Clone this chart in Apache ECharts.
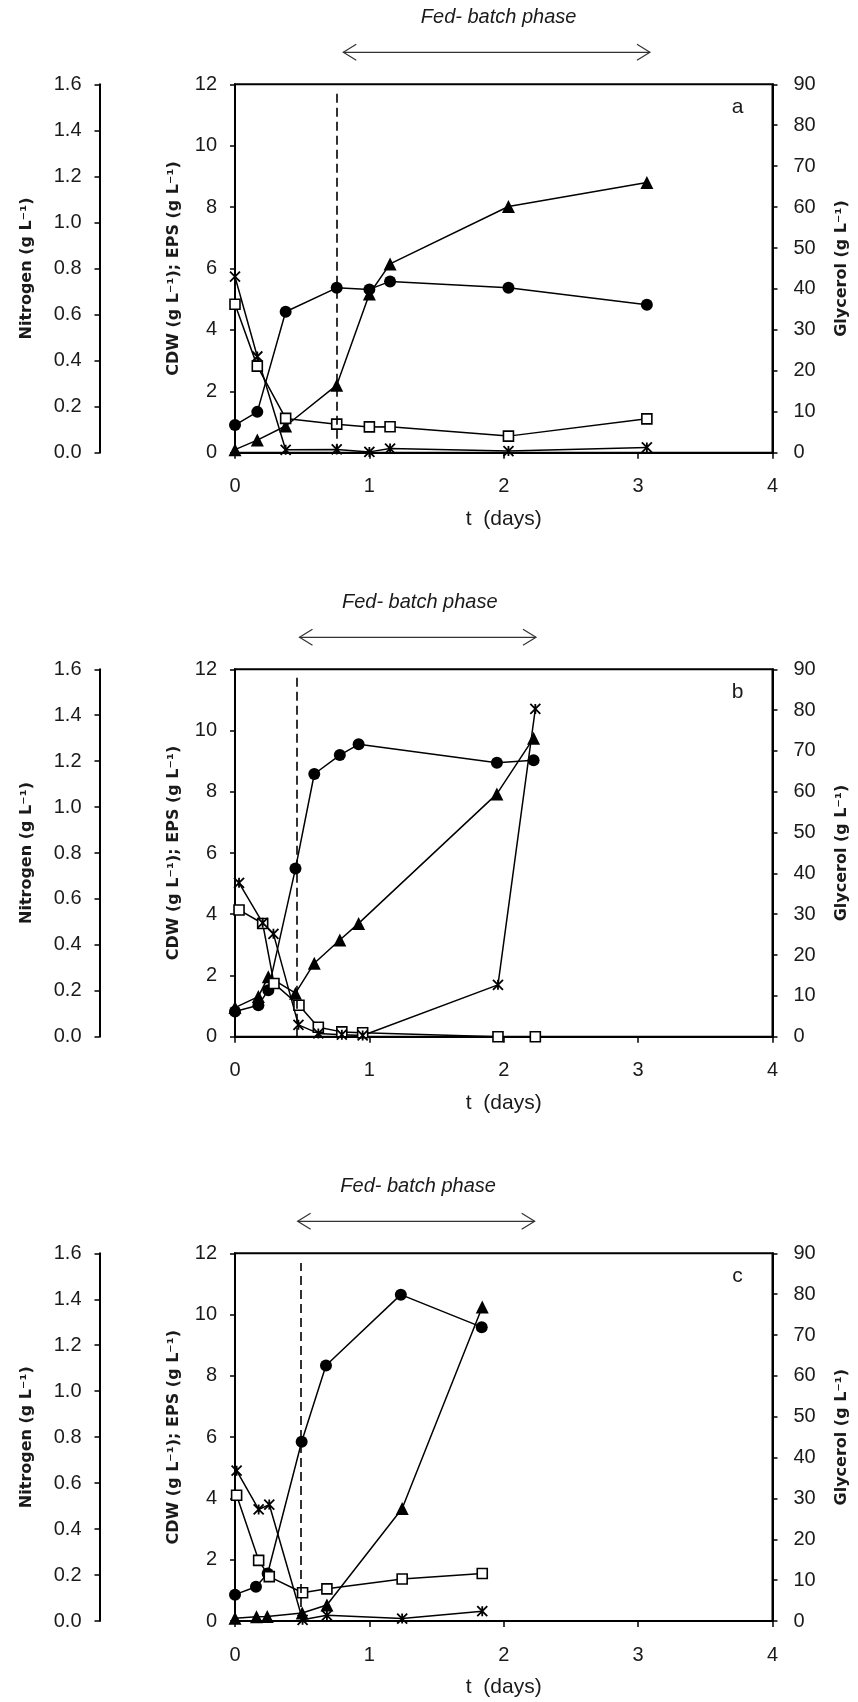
<!DOCTYPE html>
<html>
<head>
<meta charset="utf-8">
<script src="https://cdn.jsdelivr.net/npm/echarts@6/dist/echarts.min.js"></script>
<style>
html,body{margin:0;padding:0;background:#fff;}
#chart{width:858px;height:1702px;}
</style>
</head>
<body>
<div id="chart"></div>
<script>
// ---------------- DATA ----------------
// Panel a
const A_T = [0, 0.166, 0.377, 0.757, 1.0, 1.154, 2.035, 3.065];
const A_CDW = [0.90, 1.33, 4.59, 5.37, 5.32, 5.58, 5.37, 4.82];
const A_EPS = [0.10, 0.41, 0.87, 2.20, 5.17, 6.15, 8.02, 8.80];
const A_NIT = [0.645, 0.376, 0.149, 0.124, 0.112, 0.113, 0.072, 0.147];
const A_GLY = [43.0, 23.5, 0.7, 0.8, 0.2, 1.0, 0.4, 1.3];
const A_FEED = 0.757;

// Panel b
const B_T1 = [0, 0.174, 0.248, 0.45, 0.59, 0.78, 0.92, 1.949, 2.222];
const B_CDW = [0.82, 1.03, 1.52, 5.49, 8.58, 9.20, 9.55, 8.95, 9.03];
const B_EPS = [0.95, 1.31, 1.96, 1.42, 2.40, 3.16, 3.70, 7.93, 9.75];
const B_T2 = [0.03, 0.206, 0.29, 0.476, 0.62, 0.795, 0.95, 1.957, 2.235];
const B_NIT = [0.552, 0.493, 0.232, 0.137, 0.041, 0.021, 0.017, 0.0, 0.0];
const B_T3 = [0.03, 0.206, 0.286, 0.472, 0.62, 0.795, 0.95, 1.957, 2.235];
const B_GLY = [37.7, 27.9, 25.2, 2.9, 0.8, 0.5, 0.3, 12.7, 80.3];
const B_FEED = 0.459;

// Panel c
const C_T1 = [0, 0.156, 0.243, 0.496, 0.677, 1.234, 1.836];
const C_CDW = [0.86, 1.12, 1.55, 5.85, 8.34, 10.65, 9.59];
const C_T2 = [0, 0.16, 0.24, 0.50, 0.684, 1.244, 1.84];
const C_EPS = [0.09, 0.14, 0.15, 0.26, 0.52, 3.67, 10.25];
const C_T3 = [0.012, 0.176, 0.255, 0.503, 0.684, 1.244, 1.84];
const C_NIT = [0.547, 0.264, 0.193, 0.123, 0.140, 0.183, 0.207];
const C_GLY = [36.8, 27.3, 28.5, 0.3, 1.4, 0.6, 2.4];
const C_FEED = 0.486;

// Fed-batch arrows [start, end] in days
const FEED_ARROWS = [[0.806, 3.088], [0.48, 2.24], [0.466, 2.23]];
const PANEL_LETTERS = ['a', 'b', 'c'];

// Axis scales
const X_TICKS = {min: 0, max: 4, interval: 1};
const LEFT_TICKS = {min: 0, max: 12, interval: 2};
const NIT_TICKS = {min: 0, max: 1.6, interval: 0.2};
const GLY_TICKS = {min: 0, max: 90, interval: 10};

// ---------------- LAYOUT ----------------
const GRIDS = [
  {left: 235, right: 85.5, top: 84.3, height: 368.4},
  {left: 235, right: 85.5, top: 669.3, height: 367.4},
  {left: 235, right: 85.5, top: 1253.3, height: 367.7}
];
const NUM_FONT = "'Liberation Sans Narrow', 'Liberation Sans', sans-serif";
const TITLE_FONT = "'DejaVu Sans', Verdana, sans-serif";
const TXT = '#1a1a1a';

const chart = echarts.init(document.getElementById('chart'), null, {renderer: 'canvas'});

const xAxes = [], yAxes = [], series = [];
const STAR = 'path://M0,0L10,10M10,0L0,10M5,0L5,10';

function line(name, t, v, xi, yi, kind) {
  const s = {
    type: 'line', name: name, xAxisIndex: xi, yAxisIndex: yi,
    data: t.map((tt, i) => [tt, v[i]]),
    lineStyle: {color: '#000', width: 1.5},
    clip: false, animation: false, z: 3
  };
  if (kind === 'circle') {
    s.symbol = 'circle'; s.symbolSize = 12;
    s.itemStyle = {color: '#000', borderColor: '#000', borderWidth: 0};
  } else if (kind === 'triangle') {
    s.symbol = 'triangle'; s.symbolSize = 13;
    s.itemStyle = {color: '#000', borderColor: '#000', borderWidth: 0};
  } else if (kind === 'square') {
    s.symbol = 'rect'; s.symbolSize = 10;
    s.itemStyle = {color: '#fff', borderColor: '#000', borderWidth: 1.6};
    s.z = 4;
  } else {
    s.symbol = STAR; s.symbolSize = 10;
    s.itemStyle = {color: '#000', borderColor: '#000', borderWidth: 1.8};
    s.z = 4;
  }
  return s;
}

const panels = [
  {cdw: [A_T, A_CDW], eps: [A_T, A_EPS], nit: [A_T, A_NIT], gly: [A_T, A_GLY], feed: A_FEED, feedTop: 11.75},
  {cdw: [B_T1, B_CDW], eps: [B_T1, B_EPS], nit: [B_T2, B_NIT], gly: [B_T3, B_GLY], feed: B_FEED, feedTop: 11.79},
  {cdw: [C_T1, C_CDW], eps: [C_T2, C_EPS], nit: [C_T3, C_NIT], gly: [C_T3, C_GLY], feed: C_FEED, feedTop: 11.68}
];

const numLabel = {color: TXT, fontFamily: NUM_FONT, fontSize: 20};
const nameStyle = {color: TXT, fontFamily: TITLE_FONT, fontSize: 16, fontWeight: 'bold'};

panels.forEach((p, i) => {
  xAxes.push({
    type: 'value', gridIndex: i, ...X_TICKS,
    name: 't  (days)', nameLocation: 'middle', nameGap: 56,
    nameTextStyle: {color: TXT, fontFamily: NUM_FONT, fontSize: 21},
    axisLine: {show: true, onZero: false, lineStyle: {color: '#000', width: 2}},
    axisTick: {show: true, inside: false, length: 6, lineStyle: {color: '#000', width: 1.5}},
    axisLabel: {...numLabel, margin: 24},
    splitLine: {show: false}
  });
  yAxes.push({
    type: 'value', gridIndex: i, position: 'left', ...LEFT_TICKS,
    name: 'CDW (g L⁻¹); EPS (g L⁻¹)', nameLocation: 'middle', nameRotate: 90, nameGap: 53,
    nameTextStyle: nameStyle,
    axisLine: {show: true, lineStyle: {color: '#000', width: 2}},
    axisTick: {show: true, inside: false, length: 5, lineStyle: {color: '#000', width: 1.5}},
    axisLabel: {...numLabel, margin: 18},
    splitLine: {show: false}
  });
  yAxes.push({
    type: 'value', gridIndex: i, position: 'left', offset: 135.5, ...NIT_TICKS,
    name: 'Nitrogen (g L⁻¹)', nameLocation: 'middle', nameRotate: 90, nameGap: 65,
    nameTextStyle: nameStyle,
    axisLine: {show: true, lineStyle: {color: '#000', width: 2}},
    axisTick: {show: true, inside: false, length: 5, lineStyle: {color: '#000', width: 1.5}},
    axisLabel: {...numLabel, margin: 18, formatter: v => v.toFixed(1)},
    splitLine: {show: false}
  });
  yAxes.push({
    type: 'value', gridIndex: i, position: 'right', ...GLY_TICKS,
    name: 'Glycerol (g L⁻¹)', nameLocation: 'middle', nameRotate: 90, nameGap: 61,
    nameTextStyle: nameStyle,
    axisLine: {show: true, lineStyle: {color: '#000', width: 2}},
    axisTick: {show: true, inside: false, length: 5, lineStyle: {color: '#000', width: 1.5}},
    axisLabel: {...numLabel, margin: 21},
    splitLine: {show: false}
  });
  const cdw = line('CDW', p.cdw[0], p.cdw[1], i, 3 * i, 'circle');
  cdw.markLine = {
    silent: true, symbol: ['none', 'none'], animation: false,
    label: {show: false},
    lineStyle: {color: '#000', width: 1.6, type: [9, 5]},
    data: [[{coord: [p.feed, 0]}, {coord: [p.feed, p.feedTop]}]]
  };
  series.push(cdw);
  series.push(line('EPS', p.eps[0], p.eps[1], i, 3 * i, 'triangle'));
  series.push(line('Nitrogen', p.nit[0], p.nit[1], i, 3 * i + 1, 'square'));
  series.push(line('Glycerol', p.gly[0], p.gly[1], i, 3 * i + 2, 'star'));
});

chart.setOption({
  backgroundColor: '#fff',
  animation: false,
  grid: GRIDS.map(g => ({...g, show: true, borderColor: '#000', borderWidth: 2, backgroundColor: 'transparent'})),
  xAxis: xAxes,
  yAxis: yAxes,
  series: series
});

// annotations: fed-batch arrows, labels, panel letters
const graphics = [];
FEED_ARROWS.forEach((ar, i) => {
  const g = GRIDS[i];
  const y = g.top - 32;
  const p1 = chart.convertToPixel({xAxisIndex: i, yAxisIndex: 3 * i}, [ar[0], 0]);
  const p2 = chart.convertToPixel({xAxisIndex: i, yAxisIndex: 3 * i}, [ar[1], 0]);
  const x1 = p1[0], x2 = p2[0];
  const ls = {stroke: '#333', lineWidth: 1.2, fill: null};
  graphics.push({type: 'line', shape: {x1: x1, y1: y, x2: x2, y2: y}, style: ls, silent: true});
  graphics.push({type: 'polyline', shape: {points: [[x1 + 13, y - 8], [x1, y], [x1 + 13, y + 8]]}, style: ls, silent: true});
  graphics.push({type: 'polyline', shape: {points: [[x2 - 13, y - 8], [x2, y], [x2 - 13, y + 8]]}, style: ls, silent: true});
  graphics.push({type: 'text', x: (x1 + x2) / 2 + 2, y: y - 35, silent: true,
    style: {text: 'Fed- batch phase', fill: TXT, fontFamily: NUM_FONT, fontSize: 20, fontStyle: 'italic',
      align: 'center', verticalAlign: 'middle'}});
  const pl = chart.convertToPixel({xAxisIndex: i, yAxisIndex: 3 * i}, [3.74, 11.25]);
  graphics.push({type: 'text', x: pl[0], y: pl[1], silent: true,
    style: {text: PANEL_LETTERS[i], fill: TXT, fontFamily: NUM_FONT, fontSize: 21,
      align: 'center', verticalAlign: 'middle'}});
});
chart.setOption({graphic: graphics});
</script>
</body>
</html>
